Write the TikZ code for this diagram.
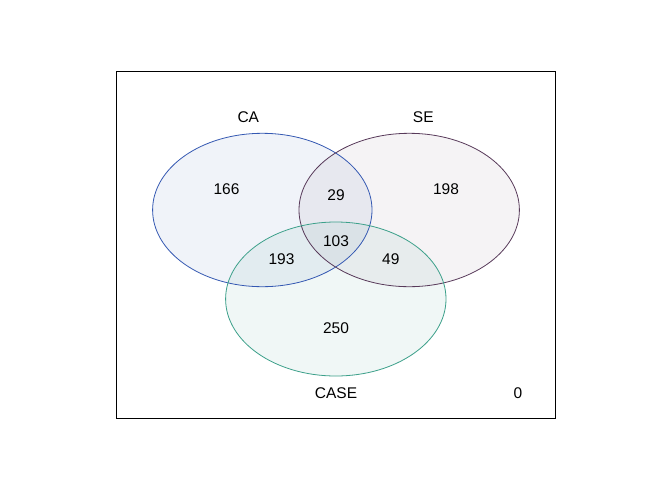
\documentclass[tikz,border=0pt]{standalone}
\usepackage{fontspec}
\setmainfont{Liberation Sans}
\definecolor{caline}{RGB}{52,88,178}
\definecolor{seline}{RGB}{88,58,90}
\definecolor{caseline}{RGB}{60,160,138}
\begin{document}
\begin{tikzpicture}[x=1pt,y=-1pt,
  setshape/.style={line width=0.8pt},
  lbl/.style={font=\fontsize{15.5}{17}\selectfont, inner sep=0pt, anchor=center}]
\useasboundingbox (0,0) rectangle (672,480);
\fill[white] (0,0) rectangle (672,480);
\draw[line width=0.9pt] (116.5,71.5) rectangle (555.5,418.5);
% fills
\fill[caline, fill opacity=0.07] (262.3,210) ellipse [x radius=109.7, y radius=76.7];
\fill[seline, fill opacity=0.06] (409.2,210) ellipse [x radius=110.2, y radius=76.7];
\fill[caseline, fill opacity=0.075] (335.8,299) ellipse [x radius=110.2, y radius=77];
% outlines
\draw[setshape, caline] (262.3,210) ellipse [x radius=109.7, y radius=76.7];
\draw[setshape, seline] (409.2,210) ellipse [x radius=110.2, y radius=76.7];
\draw[setshape, caseline] (335.8,299) ellipse [x radius=110.2, y radius=77];
% labels
\node[lbl] (ca) at (248.3,117.5) {CA};
\node[lbl] (se) at (423.3,117.5) {SE};
\node[lbl] (cs) at (336,393.5) {CASE};
\node[lbl] (n0) at (518,393.5) {0};
\node[lbl] (a) at (226.5,189.5) {166};
\node[lbl] (b) at (336,195) {29};
\node[lbl] (c) at (446,189.5) {198};
\node[lbl] (d) at (336,241) {103};
\node[lbl] (e) at (281.5,259) {193};
\node[lbl] (f) at (390.8,259) {49};
\node[lbl] (g) at (336,328) {250};
\end{tikzpicture}
\end{document}
